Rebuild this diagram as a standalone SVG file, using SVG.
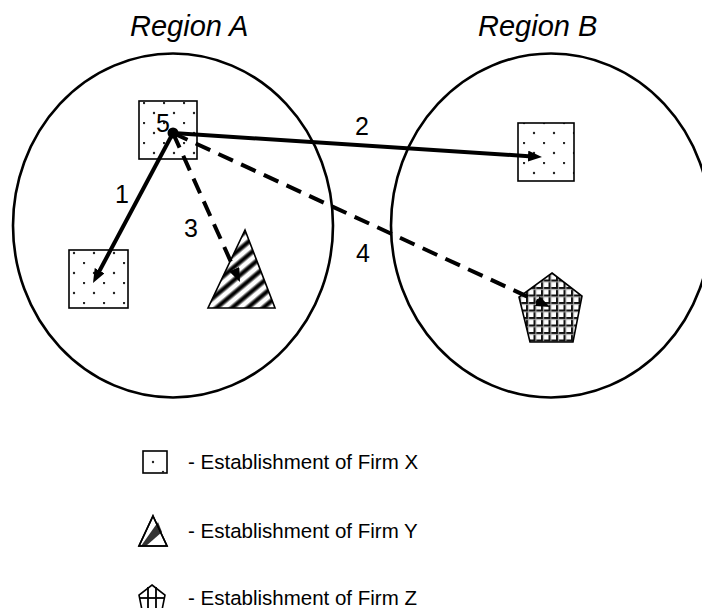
<svg xmlns="http://www.w3.org/2000/svg" width="702" height="608" viewBox="0 0 702 608">
  <style>
    .region { fill: none; stroke: #000; stroke-width: 2.6; }
    .title { font-family: "Liberation Sans", Arial, sans-serif; font-style: italic; font-size: 29px; fill: #000; }
    .num { font-family: "Liberation Sans", Arial, sans-serif; font-size: 25px; fill: #000; text-anchor: middle; }
    .legend { font-family: "Liberation Sans", Arial, sans-serif; font-size: 20.5px; fill: #000; }
    .flow { fill: none; stroke: #000; stroke-width: 4; }
    .dashed { stroke-dasharray: 16 9; }
    .shape { stroke: #000; stroke-width: 1.6; }
  </style>
  <defs>
    <!-- staggered dot fill for Firm X establishments -->
    <pattern id="dots" patternUnits="userSpaceOnUse" x="3" y="2" width="20" height="20">
      <rect width="20" height="20" fill="#fff"/>
      <circle cx="1" cy="1" r="1.2" fill="#222"/>
      <circle cx="11" cy="11" r="1.2" fill="#222"/>
    </pattern>
    <!-- soft diagonal stripes for Firm Y -->
    <linearGradient id="stripeGrad" x1="0" y1="0" x2="1" y2="0">
      <stop offset="0" stop-color="#fff"/>
      <stop offset="0.15" stop-color="#fff"/>
      <stop offset="0.4" stop-color="#000"/>
      <stop offset="0.6" stop-color="#000"/>
      <stop offset="0.85" stop-color="#fff"/>
      <stop offset="1" stop-color="#fff"/>
    </linearGradient>
    <pattern id="stripes" patternUnits="userSpaceOnUse" width="10" height="40" patternTransform="rotate(50)">
      <rect width="10" height="40" fill="url(#stripeGrad)"/>
    </pattern>
    <!-- soft grid for Firm Z -->
    <pattern id="grid" patternUnits="userSpaceOnUse" x="1" y="2" width="7.5" height="7.5">
      <rect width="7.5" height="7.5" fill="#fff"/>
      <rect x="0" y="0" width="7.5" height="2" fill="#111"/>
      <rect x="0" y="0" width="2" height="7.5" fill="#111"/>
      <rect x="0" y="2" width="7.5" height="1" fill="#aaa"/>
      <rect x="2" y="0" width="1" height="7.5" fill="#aaa"/>
    </pattern>
    <marker id="head" markerUnits="userSpaceOnUse" viewBox="0 0 14 11" refX="4" refY="5.5" markerWidth="14" markerHeight="11" orient="auto">
      <path d="M0,0 L14,5.5 L0,11 Z" fill="#000"/>
    </marker>
  </defs>

  <!-- regions -->
  <g id="regionA">
    <ellipse class="region" cx="173" cy="225.5" rx="160" ry="172"/>
    <text class="title" x="130" y="36">Region A</text>
  </g>
  <g id="regionB">
    <ellipse class="region" cx="551" cy="225.5" rx="160" ry="172"/>
    <text class="title" x="478" y="36">Region B</text>
  </g>

  <!-- establishments -->
  <g id="x-origin">
    <rect class="shape" x="139" y="101" width="58" height="58" fill="url(#dots)"/>
    <text class="num" x="163" y="132">5</text>
  </g>
  <g id="x-regionA">
    <rect class="shape" x="69" y="250" width="59" height="58" fill="url(#dots)"/>
  </g>
  <g id="x-regionB">
    <rect class="shape" x="518" y="123" width="56" height="58" fill="url(#dots)"/>
  </g>
  <g id="y-regionA">
    <polygon class="shape" points="245,230 275,308 208,308" fill="url(#stripes)"/>
  </g>
  <g id="z-regionB">
    <polygon class="shape" points="552,273 582,296 573,342 530,342 519,297" fill="url(#grid)"/>
  </g>

  <!-- connectors -->
  <g id="connectors">
    <path class="flow" d="M173,133 L97.7,274.2" marker-end="url(#head)"/>
    <path class="flow" d="M173,133 L532,156.4" marker-end="url(#head)"/>
    <path class="flow dashed" d="M173,133 L235.9,272.9" marker-end="url(#head)"/>
    <path class="flow dashed" d="M173,133 L540.9,302.8" marker-end="url(#head)"/>
    <circle cx="173" cy="133" r="5.5" fill="#000"/>
    <text class="num" x="122" y="203">1</text>
    <text class="num" x="362" y="135">2</text>
    <text class="num" x="191" y="237">3</text>
    <text class="num" x="363" y="262">4</text>
  </g>

  <!-- legend -->
  <g id="legend-x">
    <rect class="shape" x="143" y="451" width="24" height="22" fill="#fff"/>
    <circle cx="153" cy="462" r="1.2" fill="#222"/>
    <circle cx="163" cy="472" r="1.2" fill="#222"/>
    <text class="legend" x="188" y="469">- Establishment of Firm X</text>
  </g>
  <g id="legend-y">
    <polygon class="shape" points="153,516 167,546 139,546" fill="#fff"/>
    <polygon points="158,522 162,532 146,546 141,546" fill="#111" opacity="0.85"/>
    <polygon class="shape" points="153,516 167,546 139,546" fill="none"/>
    <text class="legend" x="188" y="538">- Establishment of Firm Y</text>
  </g>
  <g id="legend-z">
    <polygon class="shape" points="152,585 165,595 162,610 142,610 139,595" fill="#fff"/>
    <line x1="148" y1="587" x2="148" y2="610" stroke="#000" stroke-width="1.8"/>
    <line x1="156" y1="587" x2="156" y2="610" stroke="#000" stroke-width="1.8"/>
    <line x1="140" y1="598" x2="164" y2="598" stroke="#000" stroke-width="1.8"/>
    <text class="legend" x="188" y="605">- Establishment of Firm Z</text>
  </g>
</svg>
